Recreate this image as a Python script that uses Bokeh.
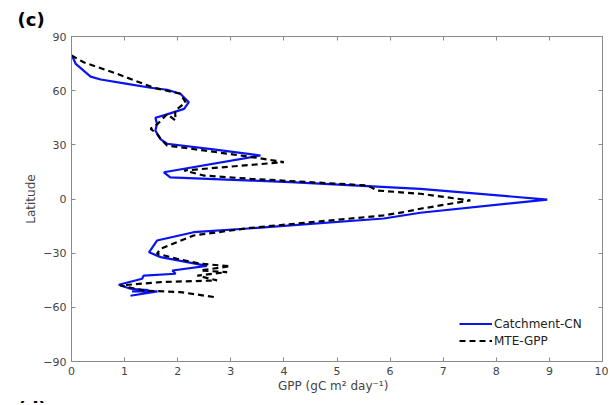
from bokeh.plotting import figure
from bokeh.models import Range1d, LinearAxis, Legend, Title, FixedTicker
from bokeh.embed import file_html
from bokeh.resources import INLINE

# Catchment-CN (GPP, latitude)
cn_gpp = [0.01, 0.08, 0.36, 0.55, 1.05, 1.49, 1.80, 2.05, 2.21, 2.12, 1.77, 1.58, 1.61, 1.58,
          1.68, 1.80, 2.67, 3.56, 1.74, 1.86, 3.40, 4.12, 6.57, 8.96, 6.57, 5.88, 3.40, 2.30,
          1.61, 1.46, 1.68, 2.55, 1.90, 1.96, 1.36, 1.33, 0.89, 1.11, 1.45, 1.14, 1.62, 1.11]
cn_lat = [79.5, 74.8, 67.8, 66.2, 63.8, 61.6, 60.5, 58.3, 53.6, 49.9, 46.6, 45.0, 41.6, 37.9,
          33.0, 30.6, 27.5, 24.1, 14.8, 12.0, 10.2, 9.3, 5.6, -0.3, -7.6, -10.8, -16.2, -18.4,
          -23.0, -29.5, -32.2, -37.0, -39.6, -41.4, -42.4, -44.2, -47.5, -49.7, -50.5, -51.2, -51.2, -53.6]

# MTE-GPP (GPP, latitude)
mte_gpp = [0.00, 0.23, 0.86, 1.55, 2.05, 2.15, 1.95, 1.96, 1.80, 1.62, 1.49, 1.61, 1.68, 1.80,
           2.49, 3.43, 4.00, 2.12, 2.49, 3.37, 5.57, 5.76, 6.57, 7.51, 6.57, 6.25, 5.88, 3.37,
           2.30, 1.68, 1.61, 1.99, 2.43, 2.99, 2.43, 2.93, 2.37, 2.74, 1.68, 0.92, 1.36, 2.05, 2.71]
mte_lat = [79.5, 75.7, 69.3, 61.6, 58.3, 53.5, 49.0, 43.5, 47.0, 41.5, 38.9, 36.1, 33.3, 29.6,
           26.9, 23.1, 20.4, 15.8, 13.0, 11.2, 7.5, 4.7, 2.9, -0.8, -5.4, -7.3, -9.1, -16.0,
           -20.2, -27.6, -30.3, -33.1, -35.9, -37.2, -39.6, -40.5, -42.4, -45.1, -46.0, -47.9, -50.7, -51.6, -54.4]

x_ticks = [0, 1, 2, 3, 4, 5, 6, 7, 8, 9, 10]
y_ticks = [-90, -60, -30, 0, 30, 60, 90]

FONT = "DejaVu Sans"
AX = "#8a8a8a"
TXT = "#444444"

p = figure(width=608, height=403, output_backend="svg", toolbar_location=None,
           x_range=Range1d(0, 10), y_range=Range1d(-90, 90),
           min_border_left=71, min_border_right=6, min_border_top=36, min_border_bottom=42)
p.grid.visible = False
p.outline_line_color = AX
p.background_fill_color = "white"

r1 = p.line(cn_gpp, cn_lat, line_color="#0a14f0", line_width=2.2)
r2 = p.line(mte_gpp, mte_lat, line_color="black", line_width=2.2, line_dash="6 4")

def style(ax, labels=True):
    ax.axis_line_color = AX
    ax.major_tick_line_color = AX
    ax.minor_tick_line_color = None
    ax.major_tick_in = 4
    ax.major_tick_out = 0
    ax.major_label_text_font = FONT
    ax.major_label_text_font_size = "11px"
    ax.major_label_text_color = TXT
    ax.axis_label_text_font = FONT
    ax.axis_label_text_font_size = "12px"
    ax.axis_label_text_font_style = "normal"
    ax.axis_label_text_color = TXT
    if not labels:
        ax.major_label_text_font_size = "0px"
        ax.major_label_text_alpha = 0

p.xaxis.ticker = FixedTicker(ticks=x_ticks)
p.yaxis.ticker = FixedTicker(ticks=y_ticks)
style(p.xaxis[0])
style(p.yaxis[0])
p.xaxis.axis_label = "GPP  (gC  m² day⁻¹)"
p.yaxis.axis_label = "Latitude"
p.xaxis.major_label_standoff = 5
p.yaxis.major_label_standoff = 5
p.xaxis.axis_label_standoff = 1
p.yaxis.axis_label_standoff = 2

top = LinearAxis(ticker=FixedTicker(ticks=x_ticks))
style(top, labels=False)
right = LinearAxis(ticker=FixedTicker(ticks=y_ticks))
style(right, labels=False)
p.add_layout(top, "above")
p.add_layout(right, "right")

legend = Legend(items=[("Catchment-CN", [r1]), ("MTE-GPP", [r2])],
                location=(388, 12), border_line_color=None, background_fill_alpha=0,
                padding=0, spacing=0, margin=0, glyph_width=33, glyph_height=17,
                label_height=17, label_standoff=2, label_text_font=FONT,
                label_text_font_size="12px", label_text_color="#222222")
p.add_layout(legend)

# panel labels
p.title.text = "(c)"
p.title.align = "left"
p.title.vertical_align = "top"
p.title.offset = -54
p.title.standoff = 10
p.title.text_font = FONT
p.title.text_font_size = "18px"
p.title.text_font_style = "bold"
p.title.text_color = "black"

d_title = Title(text="\n(d)", align="left", offset=-54, standoff=-38, vertical_align="top",
                text_font=FONT, text_font_size="18px", text_font_style="bold", text_color="black")
p.add_layout(d_title, "below")

open("out.html", "w").write(file_html(p, INLINE))
